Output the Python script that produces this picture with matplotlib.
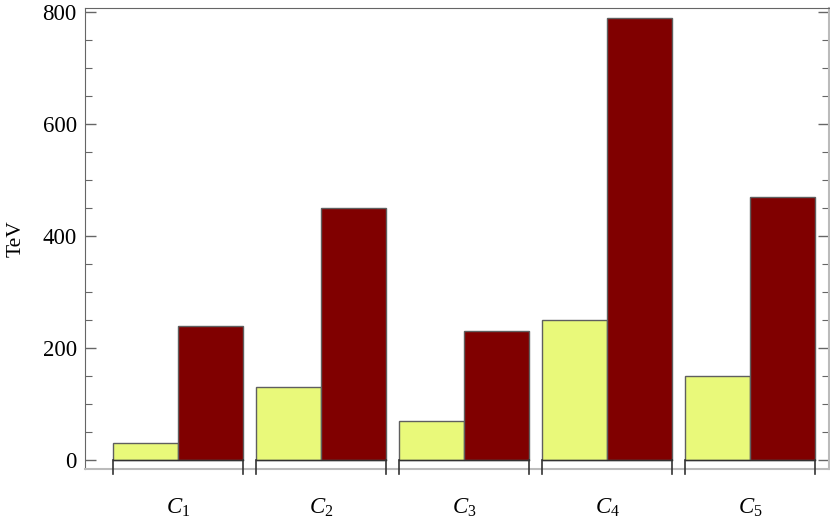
import numpy as np
import matplotlib
matplotlib.use('Agg')
import matplotlib.pyplot as plt
from matplotlib.ticker import MultipleLocator

# values (TeV)
categories = ['$C_1$', '$C_2$', '$C_3$', '$C_4$', '$C_5$']
low_vals = [30, 130, 70, 250, 150]
high_vals = [240, 450, 230, 790, 470]

plt.rcParams['font.family'] = ['Liberation Serif', 'DejaVu Serif']
plt.rcParams['mathtext.fontset'] = 'custom'
plt.rcParams['mathtext.rm'] = 'Liberation Serif'
plt.rcParams['mathtext.it'] = 'Liberation Serif:italic'

fig = plt.figure(figsize=(8.3, 5.22), dpi=100)
ax = fig.add_axes([85 / 830, 53 / 522, 744 / 830, 461 / 522])

x = np.arange(len(categories))
w = 65 / 143
edge = '#5f5f5f'
ax.bar(x - w / 2, low_vals, w, color='#e9f97a', edgecolor=edge, linewidth=1.0, zorder=2)
ax.bar(x + w / 2, high_vals, w, color='#800000', edgecolor=edge, linewidth=1.0, zorder=2)

ax.set_xlim(-0.65, 4.552)
ax.set_ylim(-16.07, 807.1)

# group markers below the bars
for xi in x:
    ax.plot([xi - w, xi + w], [0, 0], color='#333333', lw=1.0, clip_on=False, zorder=3)
    for xe in (xi - w, xi + w):
        ax.plot([xe, xe], [0, -25], color='#333333', lw=1.2, clip_on=False, zorder=3)

ax.set_xticks([])
ax.yaxis.set_major_locator(MultipleLocator(200))
ax.yaxis.set_minor_locator(MultipleLocator(50))
ax.tick_params(axis='y', which='both', direction='in', right=True, labelsize=16.5,
               color='#666666', pad=6)
ax.tick_params(axis='y', which='major', length=8, width=1.0)
ax.tick_params(axis='y', which='minor', length=5, width=0.8)

for side in ['left', 'top']:
    ax.spines[side].set_color('#666666')
for side in ['right', 'bottom']:
    ax.spines[side].set_color('#bbbbbb')
    ax.spines[side].set_linewidth(1.5)

for xi, lab in zip(x, categories):
    ax.text(xi, -85, lab, ha='center', va='center', fontsize=16.5)

ax.set_ylabel('TeV', fontsize=15.5, labelpad=12)

fig.savefig('out.png', dpi=100)
